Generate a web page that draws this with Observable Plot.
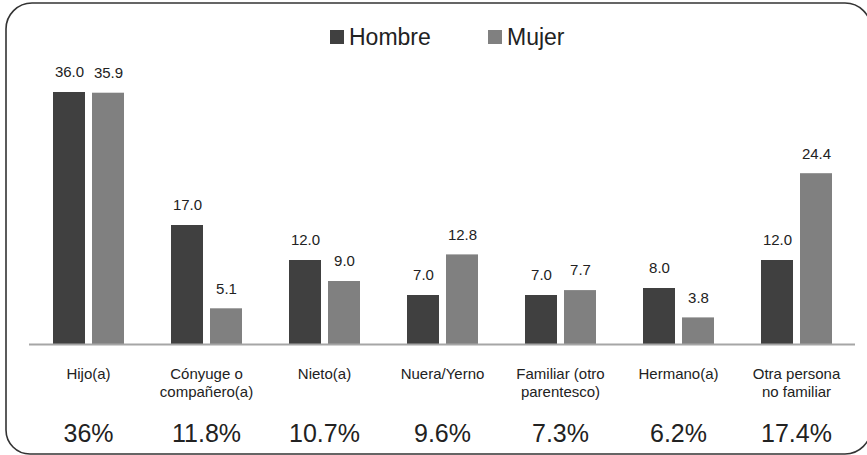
<!DOCTYPE html>
<html>
<head>
<meta charset="utf-8">
<script src="https://cdn.jsdelivr.net/npm/d3@7"></script>
<script src="https://cdn.jsdelivr.net/npm/@observablehq/plot@0.6"></script>
<style>
  html, body { margin: 0; padding: 0; background: #fff; overflow: hidden; }
  #chart { width: 867px; height: 455px; }
  #chart svg { display: block; width: 867px !important; max-width: none !important; height: 455px !important; }
  #chart svg, #chart svg text { font-family: "Liberation Sans", Arial, sans-serif !important; }
</style>
</head>
<body>
<div id="chart"></div>
<script>
const categories = ["Hijo(a)", "Cónyuge o\ncompañero(a)", "Nieto(a)", "Nuera/Yerno", "Familiar (otro\nparentesco)", "Hermano(a)", "Otra persona\nno familiar"];
const series = ["Hombre", "Mujer"];
const hombre = [36.0, 17.0, 12.0, 7.0, 7.0, 8.0, 12.0];
const mujer = [35.9, 5.1, 9.0, 12.8, 7.7, 3.8, 24.4];
const totals = ["36%", "11.8%", "10.7%", "9.6%", "7.3%", "6.2%", "17.4%"];
const colors = ["#404040", "#808080"];

const rows = categories.flatMap((c, i) => [
  {category: c, sex: series[0], value: hombre[i]},
  {category: c, sex: series[1], value: mujer[i]}
]);
const totalRows = categories.map((c, i) => ({category: c, label: totals[i]}));

const W = 867, H = 455;
const plot = Plot.plot({
  width: W,
  height: H,
  marginLeft: 27,
  marginRight: 10,
  marginTop: 64,
  marginBottom: 111,
  style: {fontFamily: "'Liberation Sans', Arial, sans-serif", fontSize: "15px", color: "#222", background: "#fff", overflow: "hidden"},
  fx: {domain: categories, padding: 0, label: null},
  x: {domain: series, paddingInner: 0.18, paddingOuter: 0.6, axis: null},
  y: {domain: [0, 40], axis: null},
  color: {domain: series, range: colors},
  marks: [
    Plot.barY(rows, {fx: "category", x: "sex", y: "value", fill: "sex"}),
    Plot.ruleY([0], {stroke: "#a6a6a6", strokeWidth: 2}),
    Plot.text(rows, {fx: "category", x: "sex", y: "value", text: d => d.value.toFixed(1), dy: -20, fontSize: 15, fill: "#222"}),
    Plot.axisFx({anchor: "bottom", tickSize: 0, tickPadding: 22, fontSize: 15, lineHeight: 1.2, label: null, color: "#222", tickFormat: d => d}),
    Plot.text(totalRows, {fx: "category", text: "label", frameAnchor: "bottom", dy: 97, fontSize: 25, fill: "#222"})
  ]
});

document.getElementById("chart").appendChild(plot);

const svg = d3.select(plot);
// rounded border (right side runs off the picture, as in the original)
svg.append("path")
  .attr("d", "M 6 29 A 26 26 0 0 1 32 3 L 845 3 A 26 26 0 0 1 871 29")
  .attr("fill", "none").attr("stroke", "#333").attr("stroke-width", 1.6);
svg.append("path")
  .attr("d", "M 6 29 L 6 430 A 24 24 0 0 0 30 454 L 845 454 A 26 26 0 0 0 871 428")
  .attr("fill", "none").attr("stroke", "#333").attr("stroke-width", 1.6);

// legend
const legendX = [330, 488];
const lg = svg.append("g").attr("text-anchor", "start");
series.forEach((s, i) => {
  lg.append("rect").attr("x", legendX[i]).attr("y", 30).attr("width", 14).attr("height", 14).attr("fill", colors[i]);
  lg.append("text").attr("x", legendX[i] + 19).attr("y", 45).attr("font-size", 23).attr("fill", "#222").attr("text-anchor", "start").text(s);
});
</script>
</body>
</html>
